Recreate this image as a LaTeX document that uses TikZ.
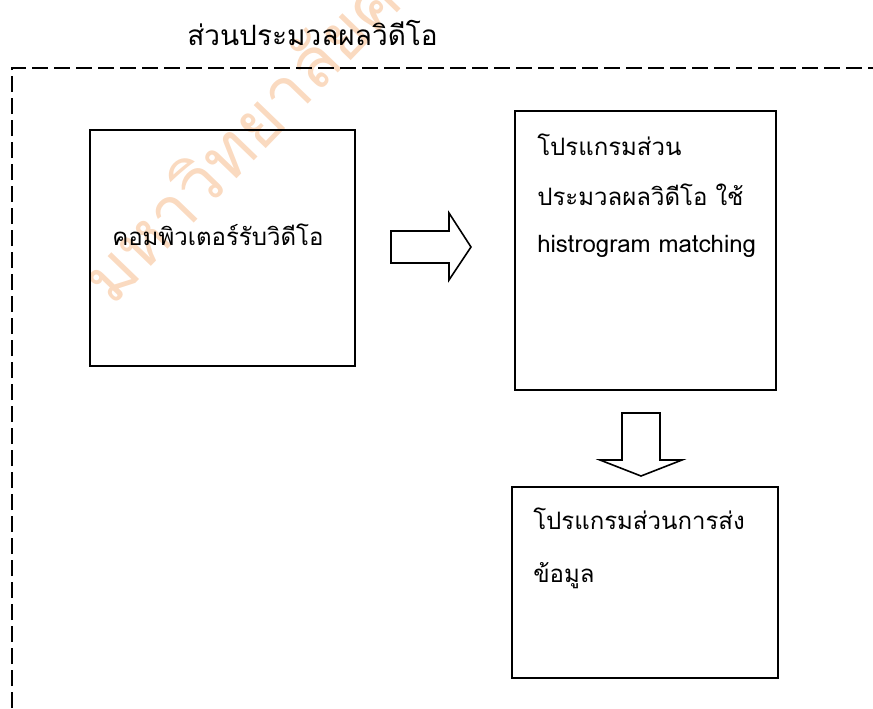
\documentclass[tikz,border=0pt]{standalone}
\usepackage{fontspec}
\newfontfamily\thaifont[Script=Thai]{Loma}
\definecolor{wmcol}{RGB}{250,218,192}
\begin{document}
\begin{tikzpicture}[x=0.75pt,y=-0.75pt,
  boxline/.style={draw=black,line width=1.5pt},
  txt/.style={anchor=base west,inner sep=0pt,font=\thaifont\fontsize{18}{20}\selectfont},
  ttl/.style={anchor=base west,inner sep=0pt,font=\thaifont\fontsize{21}{24}\selectfont},
  frame/.style={draw=black,line width=1.5pt,dash pattern=on 12pt off 4.5pt},
  blockarrow/.style={draw=black,line width=1.2pt,fill=white,line join=miter}]
\useasboundingbox (0,0) rectangle (873,708);
% watermark
\node[rotate=46,anchor=base west,inner sep=0pt,text=wmcol,
  font=\thaifont\fontsize{52}{56}\selectfont] (wm) at (112,308) {มหาวิทยาลัยศิลปากร};
% title
\node[ttl] (title) at (187,45) {ส่วนประมวลผลวิดีโอ};
% dashed frame
\coordinate (fbl) at (12,708);
\coordinate (ftl) at (12,68);
\coordinate (ftr) at (873,68);
\draw[frame] (fbl) -- (ftl) -- (ftr);
% boxes
\draw[boxline] (90,130) rectangle (355,366);
\node[txt] (t1) at (112,245) {คอมพิวเตอร์รับวิดีโอ};
\draw[boxline] (515,111) rectangle (776,390);
\node[txt] (t2a) at (537,155) {โปรแกรมส่วน};
\node[txt] (t2b) at (537,205) {ประมวลผลวิดีโอ ใช้};
\node[txt] (t2c) at (537,252) {histrogram matching};
\draw[boxline] (512,487) rectangle (778,678);
\node[txt] (t3a) at (533,529) {โปรแกรมส่วนการส่ง};
\node[txt] (t3b) at (533,582) {ข้อมูล};
% block arrows
\draw[blockarrow] (391,231) -- (449,231) -- (449,213) -- (471,247) -- (449,280) -- (449,263) -- (391,263) -- cycle;
\draw[blockarrow] (622,413) -- (660,413) -- (660,460) -- (682,460) -- (641,476) -- (600,460) -- (622,460) -- cycle;
\end{tikzpicture}
\end{document}
